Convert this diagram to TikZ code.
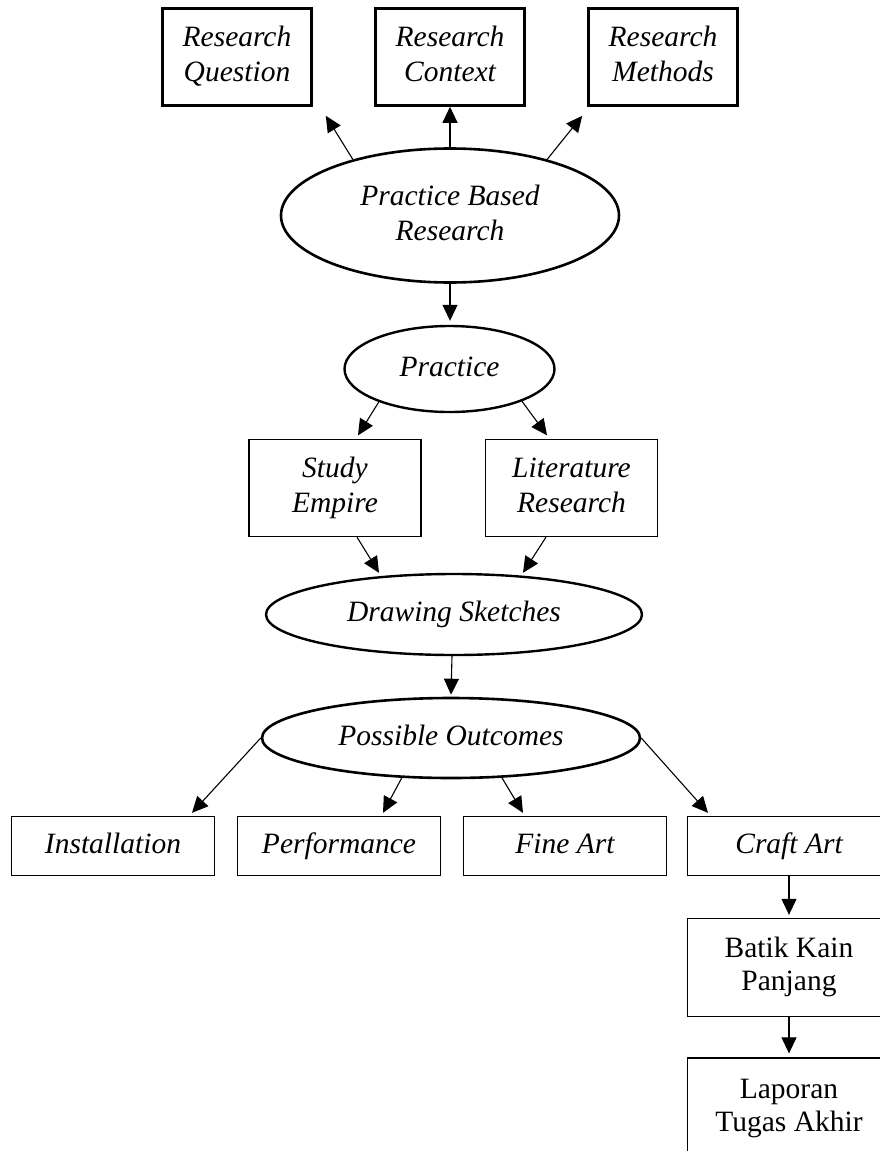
\documentclass[tikz,border=0pt]{standalone}
\usepackage{fontspec}
\setmainfont{Liberation Serif}
\usetikzlibrary{shapes.geometric,arrows.meta,calc}
\begin{document}
\begin{tikzpicture}[x=1pt,y=-1pt,
  txt/.style={font=\fontsize{29.5}{35}\selectfont\itshape, align=center, inner sep=0pt},
  uptxt/.style={font=\fontsize{29.5}{33}\selectfont, align=center, inner sep=0pt},
  topbox/.style={txt, draw, line width=2.6pt, rectangle, minimum width=149, minimum height=97},
  midbox/.style={txt, draw, line width=1.3pt, rectangle, minimum width=172, minimum height=97},
  outbox/.style={txt, draw, line width=1.3pt, rectangle, minimum width=203, minimum height=59},
  lowbox/.style={uptxt, draw, line width=1.3pt, rectangle, minimum width=203, minimum height=98},
  oval/.style={txt, draw, ellipse, line width=2.6pt},
  arr/.style={line width=1.1pt, -{Triangle[length=16pt,width=15pt]}}
]
\useasboundingbox (0,0) rectangle (880,1151);
\clip (0,0) rectangle (880,1151);
\fill[white] (0,0) rectangle (880,1151);

% top boxes
\node[topbox] (q) at (237,57) {\strut Research\\\strut Question};
\node[topbox] (ctx) at (450,57) {\strut Research\\\strut Context};
\node[topbox] (meth) at (663,57) {\strut Research\\\strut Methods};

% ellipses
\node[oval, minimum width=338, minimum height=134] (pbr) at (450,215.5) {\strut Practice Based\\\strut Research};
\node[oval, minimum width=210, minimum height=86, line width=2.4pt] (prac) at (449.5,369) {\strut Practice};

% middle boxes
\node[midbox] (study) at (335,488) {\strut Study\\\strut Empire};
\node[midbox] (lit) at (571.5,488) {\strut Literature\\\strut Research};

\node[oval, minimum width=376, minimum height=81, line width=2.4pt] (ds) at (454,614.5) {\strut Drawing Sketches};
\node[oval, minimum width=378, minimum height=80] (po) at (451,738) {\strut Possible Outcomes};

% outcome boxes
\node[outbox] (inst) at (113,846) {\strut Installation};
\node[outbox] (perf) at (339,846) {\strut Performance};
\node[outbox] (fine) at (565,846) {\strut Fine Art};
\node[outbox] (craft) at (789,846) {\strut Craft Art};

\node[lowbox] (batik) at (789,967.5) {\strut Batik Kain\\\strut Panjang};
\node[lowbox, minimum height=100] (lap) at (789,1108) {\strut Laporan\\\strut Tugas Akhir};

% connectors
\draw[arr] (pbr.150) -- ($(q.south east)+(13,9)$);
\draw[arr] (pbr.north) -- (ctx.south);
\draw[arr] (pbr.30) -- ($(meth.south west)+(-5,9)$);
\draw[arr] (pbr.south) -- ($(prac.north)+(0.5,-4)$);
\draw[arr] (prac.205) -- ($(study.north)+(23,-3.5)$);
\draw[arr] (prac.336) -- ($(lit.north)+(-24.5,-3.5)$);
\draw[arr] ($(study.south)+(22,0)$) -- ($(ds.north)+(-75,0)$);
\draw[arr] ($(lit.south)+(-25.5,0)$) -- ($(ds.north)+(69,0)$);
\draw[arr] ($(ds.south)+(-2,0)$) -- ($(po.north)+(0,-2)$);
\draw[arr] (po.180) -- ($(inst.north)+(79,-3)$);
\draw[arr] (po.219) -- ($(perf.north)+(44,-3)$);
\draw[arr] (po.322) -- ($(fine.north)+(-42,-3)$);
\draw[arr] (po.0) -- ($(craft.north)+(-81,-3)$);
\draw[arr] (craft.south) -- ($(batik.north)+(0,-3)$);
\draw[arr] (batik.south) -- ($(lap.north)+(0,-4)$);
\end{tikzpicture}
\end{document}
